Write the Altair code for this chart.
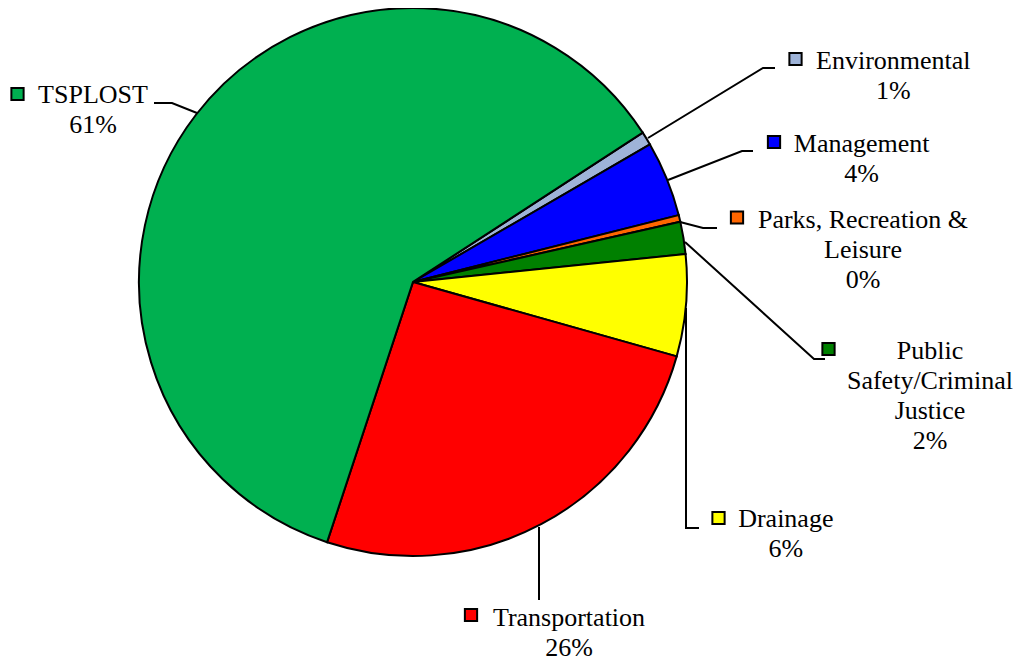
import math
import altair as alt
import pandas as pd

# ---------------- data ----------------
categories = [
    "Environmental",
    "Management",
    "Parks, Recreation & Leisure",
    "Public Safety/Criminal Justice",
    "Drainage",
    "Transportation",
    "TSPLOST",
]
shares = [0.8, 4.45, 0.4, 1.9, 6.0, 25.7, 60.75]
colors = ["#9EB3D8", "#0000FF", "#FF6600", "#008000", "#FFFF00", "#FF0000", "#00B050"]
label_lines = [
    ["Environmental"],
    ["Management"],
    ["Parks, Recreation &", "Leisure"],
    ["Public", "Safety/Criminal", "Justice"],
    ["Drainage"],
    ["Transportation"],
    ["TSPLOST"],
]

# ---------------- layout (page pixels) ----------------
W, H = 1005, 660
OFF = 8
CX, CY, R = 413, 282, 274
START_DEG = 56.97
LINE_H = 30
FONT = "Liberation Serif"
FONT_SIZE = 26

label_pos = [(893.3, 68.5), (861.7, 151.5), (863.0, 227.7), (930.0, 359.3),
             (785.8, 527.3), (569.0, 625.7), (93.0, 103.3)]
marker_pos = [(795.5, 59), (774, 142), (737, 217.5), (828.5, 349),
              (718.5, 518), (471, 615), (17.5, 94)]
leaders = [
    [(775, 68), (763, 68), (648, 138)],
    [(753, 151), (742, 151), (668, 180)],
    [(680, 222), (703, 228), (717, 228)],
    [(685, 242), (814, 359), (825, 359)],
    [(686, 308), (686, 528), (699, 528)],
    [(539, 527), (539, 600)],
    [(154, 103), (172, 103), (197, 113)],
]

# ---------------- tables ----------------
pie_df = pd.DataFrame({"cat": categories, "share": shares, "ord": list(range(len(categories)))})

text_rows = []
for i, cat in enumerate(categories):
    lines = label_lines[i] + [f"{round(shares[i])}%"]
    lx, ly = label_pos[i]
    for j, t in enumerate(lines):
        text_rows.append({"cat": cat, "txt": t, "x": lx - OFF, "y": ly - OFF + j * LINE_H})
text_df = pd.DataFrame(text_rows)

marker_df = pd.DataFrame({
    "cat": categories,
    "x": [p[0] - OFF for p in marker_pos],
    "y": [p[1] - OFF for p in marker_pos],
})

line_rows = []
for i, cat in enumerate(categories):
    for k, (px, py) in enumerate(leaders[i]):
        line_rows.append({"cat": cat, "seq": k, "x": px - OFF, "y": py - OFF})
line_df = pd.DataFrame(line_rows)

xs = alt.Scale(domain=[0, W], range=[0, W], nice=False, zero=False)
ys = alt.Scale(domain=[0, H], range=[0, H], nice=False, zero=False)
color_scale = alt.Scale(domain=categories, range=colors)
start = math.radians(START_DEG)

pie = alt.Chart(pie_df).mark_arc(radius=R, stroke="black", strokeWidth=2).encode(
    theta=alt.Theta("share:Q", stack=True, scale=alt.Scale(range=[start, start + 2 * math.pi])),
    color=alt.Color("cat:N", scale=color_scale, legend=None),
    order=alt.Order("ord:Q"),
    x=alt.value(CX - OFF),
    y=alt.value(CY - OFF),
)

leader_lines = alt.Chart(line_df).mark_line(color="black", strokeWidth=2).encode(
    x=alt.X("x:Q", scale=xs, axis=None),
    y=alt.Y("y:Q", scale=ys, axis=None),
    detail="cat:N",
    order="seq:Q",
)

markers = alt.Chart(marker_df).mark_square(size=150, stroke="black", strokeWidth=2, opacity=1).encode(
    x=alt.X("x:Q", scale=xs, axis=None),
    y=alt.Y("y:Q", scale=ys, axis=None),
    color=alt.Color("cat:N", scale=color_scale, legend=None),
)

labels = alt.Chart(text_df).mark_text(
    font=FONT, fontSize=FONT_SIZE, align="center", baseline="alphabetic", color="black"
).encode(
    x=alt.X("x:Q", scale=xs, axis=None),
    y=alt.Y("y:Q", scale=ys, axis=None),
    text="txt:N",
)

chart = alt.layer(pie, leader_lines, markers, labels).properties(
    width=W, height=H, padding=0, autosize=alt.AutoSizeParams(type="none")
).configure_view(stroke=None)

chart.save("out.html", embed_options={"renderer": "svg", "actions": False})
